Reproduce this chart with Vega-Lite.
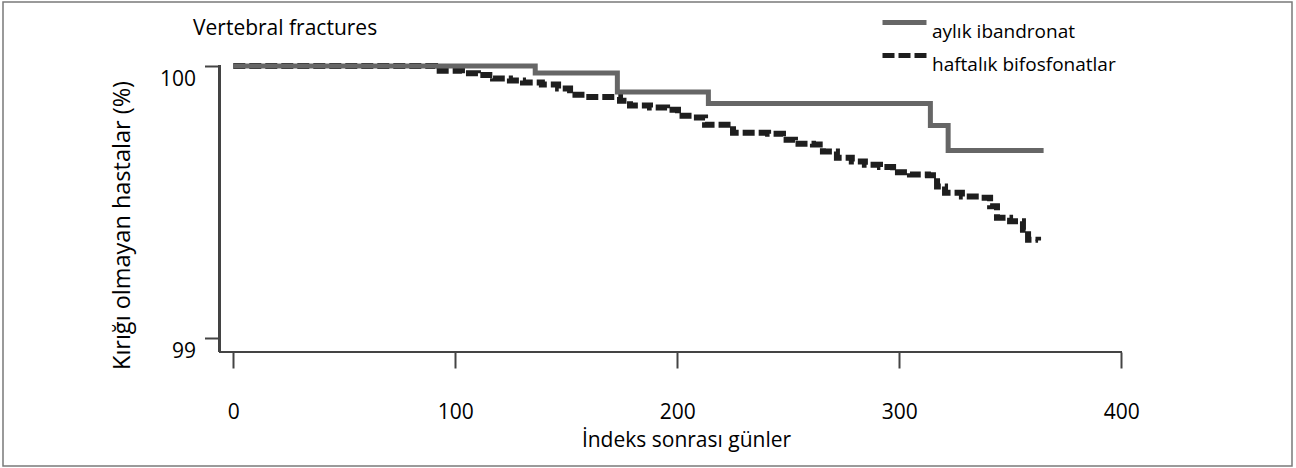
{
  "$schema": "https://vega.github.io/schema/vega-lite/v6.json",
  "width": 1289,
  "height": 464,
  "padding": {"left": 3, "top": 2, "right": 4, "bottom": 2},
  "autosize": {"type": "none"},
  "background": "white",
  "config": {
    "view": {"stroke": "#7a7a7a", "strokeWidth": 1.5},
    "font": "Open Sans",
    "title": {"font": "Open Sans", "fontWeight": "normal", "color": "black"}
  },
  "title": {
    "text": "Vertebral fractures",
    "anchor": "start",
    "frame": "group",
    "fontSize": 21,
    "baseline": "alphabetic",
    "offset": 0,
    "dx": 190,
    "dy": 54
  },
  "data": {
    "values": [
      {"day": 0, "pct": 100, "group": "haftalık bifosfonatlar"},
      {"day": 90.9, "pct": 99.983, "group": "haftalık bifosfonatlar"},
      {"day": 103.0, "pct": 99.973, "group": "haftalık bifosfonatlar"},
      {"day": 110.2, "pct": 99.967, "group": "haftalık bifosfonatlar"},
      {"day": 117.0, "pct": 99.954, "group": "haftalık bifosfonatlar"},
      {"day": 124.6, "pct": 99.947, "group": "haftalık bifosfonatlar"},
      {"day": 130.5, "pct": 99.939, "group": "haftalık bifosfonatlar"},
      {"day": 139.0, "pct": 99.932, "group": "haftalık bifosfonatlar"},
      {"day": 146.3, "pct": 99.917, "group": "haftalık bifosfonatlar"},
      {"day": 151.7, "pct": 99.894, "group": "haftalık bifosfonatlar"},
      {"day": 158.4, "pct": 99.886, "group": "haftalık bifosfonatlar"},
      {"day": 174.2, "pct": 99.872, "group": "haftalık bifosfonatlar"},
      {"day": 178.7, "pct": 99.855, "group": "haftalık bifosfonatlar"},
      {"day": 187.7, "pct": 99.847, "group": "haftalık bifosfonatlar"},
      {"day": 195.4, "pct": 99.839, "group": "haftalık bifosfonatlar"},
      {"day": 200.3, "pct": 99.817, "group": "haftalık bifosfonatlar"},
      {"day": 207.1, "pct": 99.811, "group": "haftalık bifosfonatlar"},
      {"day": 212.5, "pct": 99.784, "group": "haftalık bifosfonatlar"},
      {"day": 225.1, "pct": 99.755, "group": "haftalık bifosfonatlar"},
      {"day": 240.9, "pct": 99.751, "group": "haftalık bifosfonatlar"},
      {"day": 247.6, "pct": 99.729, "group": "haftalık bifosfonatlar"},
      {"day": 253.0, "pct": 99.714, "group": "haftalık bifosfonatlar"},
      {"day": 261.1, "pct": 99.711, "group": "haftalık bifosfonatlar"},
      {"day": 265.6, "pct": 99.686, "group": "haftalık bifosfonatlar"},
      {"day": 271.9, "pct": 99.663, "group": "haftalık bifosfonatlar"},
      {"day": 278.6, "pct": 99.649, "group": "haftalık bifosfonatlar"},
      {"day": 284.5, "pct": 99.637, "group": "haftalık bifosfonatlar"},
      {"day": 291.3, "pct": 99.629, "group": "haftalık bifosfonatlar"},
      {"day": 297.2, "pct": 99.609, "group": "haftalık bifosfonatlar"},
      {"day": 304.8, "pct": 99.601, "group": "haftalık bifosfonatlar"},
      {"day": 312.9, "pct": 99.598, "group": "haftalık bifosfonatlar"},
      {"day": 317.0, "pct": 99.557, "group": "haftalık bifosfonatlar"},
      {"day": 320.6, "pct": 99.534, "group": "haftalık bifosfonatlar"},
      {"day": 328.2, "pct": 99.520, "group": "haftalık bifosfonatlar"},
      {"day": 336.3, "pct": 99.516, "group": "haftalık bifosfonatlar"},
      {"day": 340.9, "pct": 99.484, "group": "haftalık bifosfonatlar"},
      {"day": 344.0, "pct": 99.442, "group": "haftalık bifosfonatlar"},
      {"day": 349.9, "pct": 99.429, "group": "haftalık bifosfonatlar"},
      {"day": 355.7, "pct": 99.398, "group": "haftalık bifosfonatlar"},
      {"day": 358.0, "pct": 99.361, "group": "haftalık bifosfonatlar"},
      {"day": 362.5, "pct": 99.358, "group": "haftalık bifosfonatlar"},
      {"day": 0, "pct": 100, "group": "aylık ibandronat"},
      {"day": 136, "pct": 99.974, "group": "aylık ibandronat"},
      {"day": 173, "pct": 99.904, "group": "aylık ibandronat"},
      {"day": 214, "pct": 99.862, "group": "aylık ibandronat"},
      {"day": 314, "pct": 99.781, "group": "aylık ibandronat"},
      {"day": 322, "pct": 99.689, "group": "aylık ibandronat"},
      {"day": 365, "pct": 99.689, "group": "aylık ibandronat"}
    ]
  },
  "encoding": {
    "x": {
      "field": "day",
      "type": "quantitative",
      "scale": {"domain": [-103.74, 476.89], "nice": false, "zero": false},
      "axis": {
        "values": [0, 100, 200, 300, 400],
        "offset": -114,
        "domain": false,
        "grid": false,
        "tickSize": 16,
        "tickWidth": 2,
        "tickColor": "#444",
        "labelFont": "Open Sans",
        "labelFontSize": 21,
        "labelColor": "black",
        "labelBaseline": "alphabetic",
        "labelPadding": 50,
        "labelFlush": false,
        "title": "İndeks sonrası günler",
        "titleFont": "Open Sans",
        "titleFontSize": 21,
        "titleFontWeight": "normal",
        "titleColor": "black",
        "titleBaseline": "alphabetic",
        "titleAlign": "center",
        "titleX": 683,
        "titleY": 94
      }
    },
    "y": {
      "field": "pct",
      "type": "quantitative",
      "scale": {"domain": [98.5294, 100.2353], "nice": false, "zero": false},
      "axis": {
        "values": [99, 100],
        "offset": -216.5,
        "domain": false,
        "grid": false,
        "tickSize": 15,
        "tickWidth": 2,
        "tickColor": "#444",
        "labelFont": "Open Sans",
        "labelFontSize": 21,
        "labelColor": "black",
        "labelBaseline": "alphabetic",
        "labelOffset": 19.5,
        "labelPadding": 9,
        "labelFlush": false,
        "title": "Kırığı olmayan hastalar (%)",
        "titleFont": "Open Sans",
        "titleFontSize": 23.5,
        "titleFontWeight": "normal",
        "titleColor": "black",
        "titleAngle": -90,
        "titleBaseline": "alphabetic",
        "titleAlign": "center",
        "titleX": -90.5,
        "titleY": 223
      }
    }
  },
  "layer": [
    {
      "mark": {"type": "rule", "color": "#444", "strokeWidth": 2},
      "encoding": {
        "x": {"datum": -6.2},
        "y": {"datum": 98.9485},
        "x2": {"datum": 400}
      }
    },
    {
      "mark": {"type": "rule", "color": "#444", "strokeWidth": 2},
      "encoding": {
        "x": {"datum": -6.2},
        "y": {"datum": 98.9485},
        "y2": {"datum": 100.003}
      }
    },
    {
      "transform": [{"filter": "datum.group === 'haftalık bifosfonatlar'"}],
      "mark": {"type": "line", "interpolate": "step-after", "strokeWidth": 6},
      "encoding": {
        "color": {
          "field": "group",
          "type": "nominal",
          "scale": {"domain": ["aylık ibandronat", "haftalık bifosfonatlar"], "range": ["#666666", "#1e1e1e"]},
          "legend": {
            "title": null,
            "orient": "none",
            "legendX": 888,
            "legendY": 7,
            "padding": 0,
            "symbolType": "M-2,0H2",
            "symbolSize": 484,
            "symbolStrokeWidth": 5,
            "labelFont": "Open Sans",
            "labelFontSize": 19,
            "labelColor": "black",
            "labelBaseline": "top",
            "labelOffset": 14,
            "labelLimit": 0,
            "rowPadding": -22
          }
        },
        "strokeDash": {
          "field": "group",
          "type": "nominal",
          "scale": {"domain": ["aylık ibandronat", "haftalık bifosfonatlar"], "range": [[1, 0], [12, 4]]},
          "legend": null
        }
      }
    },
    {
      "transform": [{"filter": "datum.group === 'aylık ibandronat'"}],
      "mark": {"type": "line", "interpolate": "step-after", "strokeWidth": 5},
      "encoding": {
        "color": {"field": "group", "type": "nominal"},
        "strokeDash": {"field": "group", "type": "nominal"}
      }
    }
  ]
}
